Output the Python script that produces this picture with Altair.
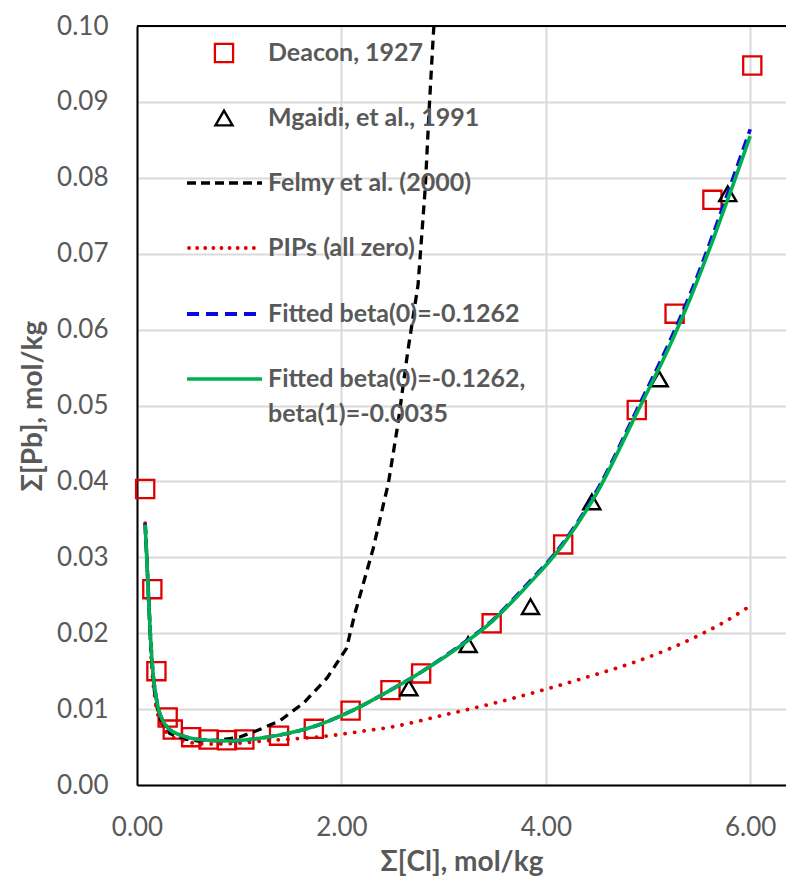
import altair as alt
import pandas as pd

# ---------------- data ----------------
deacon_x = [0.08, 0.15, 0.19, 0.30, 0.35, 0.53, 0.70, 0.88, 1.05, 1.39, 1.73, 2.09, 2.48, 2.78, 3.47, 4.17, 4.89, 5.26, 5.63, 6.02]
deacon_y = [0.0390, 0.0258, 0.0150, 0.0089, 0.0073, 0.0063, 0.0060, 0.0059, 0.0060, 0.0065, 0.0074, 0.0098, 0.0125, 0.0147, 0.0213, 0.0317, 0.0494, 0.0621, 0.0771, 0.0948]

mgaidi_x = [2.66, 3.24, 3.85, 4.45, 5.11, 5.78]
mgaidi_y = [0.0128, 0.0185, 0.0235, 0.0373, 0.0535, 0.0779]

felmy_x = [0.08, 0.11, 0.14, 0.18, 0.24, 0.32, 0.45, 0.60, 0.80, 1.00, 1.20, 1.40, 1.63, 1.86, 2.05, 2.13, 2.31, 2.46, 2.55, 2.65, 2.75, 2.82, 2.86, 2.90, 2.92]
felmy_y = [0.0345, 0.0260, 0.0170, 0.0110, 0.0082, 0.0068, 0.0061, 0.0058, 0.0059, 0.0063, 0.0073, 0.0085, 0.0108, 0.0141, 0.0180, 0.0225, 0.0311, 0.0398, 0.0473, 0.0572, 0.0659, 0.0786, 0.0894, 0.0990, 0.1030]

pips_x = [0.08, 0.11, 0.14, 0.18, 0.24, 0.32, 0.45, 0.68, 1.00, 1.23, 1.56, 1.89, 2.21, 2.47, 3.06, 3.50, 3.97, 4.40, 4.85, 5.20, 5.51, 5.75, 6.00]
pips_y = [0.0345, 0.0255, 0.0165, 0.0110, 0.0080, 0.0066, 0.0058, 0.0054, 0.0055, 0.0058, 0.0061, 0.0065, 0.0071, 0.0076, 0.0094, 0.0108, 0.0125, 0.0142, 0.0161, 0.0179, 0.0198, 0.0215, 0.0236]

fit_x = [0.08, 0.095, 0.11, 0.13, 0.155, 0.18, 0.21, 0.26, 0.32, 0.42, 0.55, 0.70, 0.90, 1.10, 1.40, 1.73, 2.09, 2.48, 2.77, 3.10, 3.47, 3.80, 4.17, 4.50, 4.89, 5.20, 5.41, 5.64, 5.83, 6.00]
fit_b0_y = [0.0345, 0.0300, 0.0255, 0.0200, 0.0150, 0.0122, 0.0100, 0.0083, 0.0073, 0.0066, 0.0061, 0.0059, 0.0058, 0.0060, 0.0066, 0.0077, 0.0097, 0.0125, 0.0148, 0.0178, 0.0216, 0.0262, 0.0319, 0.0388, 0.0494, 0.0581, 0.0646, 0.0727, 0.0799, 0.0864]
fit_b0b1_y = [0.0343, 0.0300, 0.0255, 0.0200, 0.0150, 0.0122, 0.0100, 0.0083, 0.0073, 0.0066, 0.0061, 0.0059, 0.0058, 0.0060, 0.0066, 0.0077, 0.0097, 0.0125, 0.0148, 0.0177, 0.0215, 0.0260, 0.0317, 0.0385, 0.0490, 0.0575, 0.0640, 0.0720, 0.0790, 0.0855]

legend_labels = ["Deacon, 1927", "Mgaidi, et al., 1991", "Felmy et al. (2000)", "PIPs (all zero)",
                 "Fitted beta(0)=-0.1262", "Fitted beta(0)=-0.1262,", "beta(1)=-0.0035"]

x_ticks = [0, 2, 4, 6]
y_ticks = [round(i * 0.01, 2) for i in range(11)]

# ---------------- styling ----------------
PAD_TOP = 18
W, H = 649, 777 - PAD_TOP
FONT = "Lato"
GREY = "#595959"
RED = "#e00000"
BLUE = "#0a0ae0"
GREEN = "#00b050"

xscale = alt.Scale(domain=[0, 6.35], nice=False, zero=False)
yscale = alt.Scale(domain=[0, 0.1], nice=False, zero=False)

xaxis = alt.Axis(values=x_ticks, format=".2f", title="Σ[Cl], mol/kg", labelFlush=False,
                 labelPadding=29, titlePadding=8)
yaxis = alt.Axis(values=y_ticks, format=".2f", title="Σ[Pb], mol/kg", labelFlush=False,
                 labelPadding=29, titlePadding=9)

X = alt.X("x:Q", scale=xscale, axis=xaxis)
Y = alt.Y("y:Q", scale=yscale, axis=yaxis)


def df(xs, ys):
    return pd.DataFrame({"x": xs, "y": ys})


deacon = alt.Chart(df(deacon_x, deacon_y)).mark_point(
    shape="square", filled=False, color=RED, size=330, strokeWidth=2.3, opacity=1
).encode(x=X, y=Y)

mgaidi = alt.Chart(df(mgaidi_x, mgaidi_y)).mark_point(
    shape="triangle-up", filled=False, color="black", size=290, strokeWidth=2.4, opacity=1
).encode(x=X, y=Y)

felmy = alt.Chart(df(felmy_x, felmy_y)).mark_line(
    color="black", strokeWidth=3.3, strokeDash=[9, 6], clip=True
).encode(x=X, y=Y, order="x:Q")

pips = alt.Chart(df(pips_x, pips_y)).mark_line(
    color=RED, strokeWidth=3.8, strokeDash=[0.1, 9.5], strokeCap="round", interpolate="monotone", clip=True
).encode(x=X, y=Y, order="x:Q")

fit1 = alt.Chart(df(fit_x, fit_b0_y)).mark_line(
    color=BLUE, strokeWidth=3.6, strokeDash=[11, 6], interpolate="monotone", clip=True
).encode(x=X, y=Y, order="x:Q")

fit2 = alt.Chart(df(fit_x, fit_b0b1_y)).mark_line(
    color=GREEN, strokeWidth=3.6, interpolate="monotone", clip=True
).encode(x=X, y=Y, order="x:Q")

# ---------------- manual legend (pixel positions inside plot area) ----------------
one = alt.Data(values=[{}])
rows = [p - 8 - PAD_TOP for p in [53, 118, 183, 248, 314, 379, 414]]
SYM_X = 87
TXT_X = 131
L0, L1 = 50, 125

leg_layers = []
leg_layers.append(alt.Chart(one).mark_point(shape="square", filled=False, color=RED, size=330,
                                             strokeWidth=2.3, opacity=1)
                  .encode(x=alt.value(SYM_X), y=alt.value(rows[0])))
leg_layers.append(alt.Chart(one).mark_point(shape="triangle-up", filled=False, color="black", size=290,
                                             strokeWidth=2.4, opacity=1)
                  .encode(x=alt.value(SYM_X), y=alt.value(rows[1])))
leg_layers.append(alt.Chart(one).mark_rule(color="black", strokeWidth=3.3, strokeDash=[9, 5])
                  .encode(x=alt.value(L0), x2=alt.value(L1), y=alt.value(rows[2])))
leg_layers.append(alt.Chart(one).mark_rule(color=RED, strokeWidth=3.8, strokeDash=[0.1, 8], strokeCap="round")
                  .encode(x=alt.value(L0 + 2), x2=alt.value(L1 - 5), y=alt.value(rows[3])))
leg_layers.append(alt.Chart(one).mark_rule(color=BLUE, strokeWidth=3.8, strokeDash=[12, 7])
                  .encode(x=alt.value(L0), x2=alt.value(L1), y=alt.value(rows[4])))
leg_layers.append(alt.Chart(one).mark_rule(color=GREEN, strokeWidth=3.6)
                  .encode(x=alt.value(L0), x2=alt.value(L1), y=alt.value(rows[5])))
for lab, ry in zip(legend_labels, rows):
    leg_layers.append(alt.Chart(one).mark_text(text=lab, font=FONT, fontSize=25, fontWeight="bold",
                                                color=GREY, align="left", baseline="middle")
                      .encode(x=alt.value(TXT_X), y=alt.value(ry)))

# top border of plot area
top_border = alt.Chart(one).mark_rule(color="black", strokeWidth=2).encode(
    x=alt.value(0), x2=alt.value(W), y=alt.value(0))

chart = alt.layer(deacon, mgaidi, felmy, pips, fit1, fit2, *leg_layers, top_border).properties(
    width=W, height=H,
    autosize=alt.AutoSizeParams(type="none"),
    padding={"left": 129, "top": PAD_TOP, "right": 0, "bottom": 95},
    background="white",
).configure_view(stroke=None).configure_axis(
    labelFont=FONT, labelFontSize=26, labelColor=GREY,
    titleFont=FONT, titleFontSize=28, titleFontWeight="bold", titleColor=GREY,
    ticks=False, domainColor="black", domainWidth=2,
    gridColor="#d9d9d9", gridWidth=2, labelOverlap=False,
)

chart.save("out.html", embed_options={"renderer": "svg", "actions": False})
